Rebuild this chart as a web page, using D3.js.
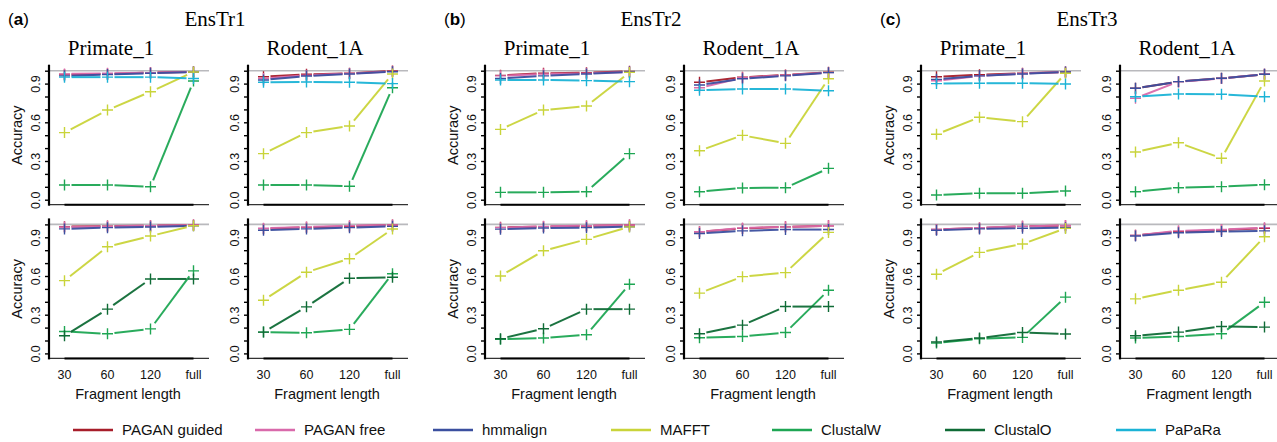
<!DOCTYPE html>
<html><head><meta charset="utf-8">
<script src="https://cdn.jsdelivr.net/npm/d3@7"></script>
<style>
html,body{margin:0;padding:0;background:#fff;}
svg{display:block;}
</style></head>
<body><svg id="chart" width="1277" height="442"></svg>
<script>
// ---------- DATA ----------
const fragLengths = ["30", "60", "120", "full"];
const datasets = ["EnsTr1", "EnsTr2", "EnsTr3"];
const panelTags = ["a", "b", "c"];
const species = ["Primate_1", "Rodent_1A"];
const yTickValues = [0, 0.1, 0.2, 0.3, 0.4, 0.5, 0.6, 0.7, 0.8, 0.9, 1.0];
const yTickLabels = ["0.0", "0.3", "0.6", "0.9"];
const seriesNames = ["PAGAN guided", "PAGAN free", "hmmalign", "MAFFT", "ClustalW", "ClustalO", "PaPaRa"];
const seriesColors = ["#a71d2a", "#d96aab", "#3b4f9f", "#c9d43a", "#1ea653", "#0f6b36", "#1bb3d6"];

// panel order: EnsTr1 top Primate, top Rodent, bottom Primate, bottom Rodent, then EnsTr2, EnsTr3
const paganGuided = [
  [0.970, 0.975, 0.985, 0.992], [0.953, 0.972, 0.980, 0.998],
  [0.982, 0.987, 0.990, 0.995], [0.967, 0.977, 0.986, 0.995],
  [0.964, 0.980, 0.985, 0.995], [0.910, 0.949, 0.967, 0.988],
  [0.977, 0.983, 0.988, 0.995], [0.943, 0.969, 0.981, 0.990],
  [0.953, 0.969, 0.980, 0.990], [0.864, 0.915, 0.941, 0.972],
  [0.961, 0.973, 0.985, 0.990], [0.915, 0.943, 0.956, 0.970]
];
const paganFree = [
  [0.975, 0.980, 0.985, 0.990], [0.940, 0.965, 0.978, 0.995],
  [0.980, 0.985, 0.990, 0.995], [0.970, 0.980, 0.990, 0.995],
  [0.960, 0.975, 0.980, 0.990], [0.868, 0.945, 0.965, 0.985],
  [0.975, 0.985, 0.990, 0.995], [0.943, 0.972, 0.981, 0.990],
  [0.922, 0.960, 0.978, 0.990], [0.786, 0.915, 0.940, 0.972],
  [0.960, 0.975, 0.985, 0.992], [0.915, 0.950, 0.960, 0.975]
];
const hmmalign = [
  [0.960, 0.970, 0.980, 0.990], [0.928, 0.959, 0.975, 0.992],
  [0.965, 0.975, 0.980, 0.990], [0.955, 0.965, 0.975, 0.985],
  [0.940, 0.960, 0.975, 0.990], [0.889, 0.938, 0.960, 0.985],
  [0.963, 0.972, 0.975, 0.982], [0.930, 0.950, 0.960, 0.960],
  [0.933, 0.960, 0.975, 0.990], [0.864, 0.915, 0.941, 0.972],
  [0.955, 0.965, 0.970, 0.975], [0.910, 0.935, 0.945, 0.950]
];
const mafft = [
  [0.520, 0.695, 0.837, 0.990], [0.357, 0.520, 0.571, 0.974],
  [0.564, 0.827, 0.910, 0.990], [0.412, 0.629, 0.734, 0.964],
  [0.545, 0.695, 0.726, 0.987], [0.380, 0.499, 0.437, 0.938],
  [0.600, 0.796, 0.884, 0.981], [0.467, 0.595, 0.626, 0.938],
  [0.507, 0.639, 0.605, 0.980], [0.370, 0.442, 0.321, 0.920],
  [0.613, 0.783, 0.848, 0.969], [0.423, 0.490, 0.552, 0.904]
];
const clustalW = [
  [0.114, 0.114, 0.100, 0.920], [0.114, 0.114, 0.104, 0.868],
  [0.170, 0.152, 0.190, 0.640], [0.165, 0.160, 0.186, 0.618],
  [0.057, 0.057, 0.062, 0.357], [0.062, 0.091, 0.093, 0.243],
  [0.110, 0.119, 0.145, 0.536], [0.121, 0.131, 0.162, 0.490],
  [0.036, 0.050, 0.050, 0.067], [0.062, 0.093, 0.101, 0.116],
  [0.080, 0.114, 0.124, 0.436], [0.119, 0.131, 0.152, 0.397]
];
const clustalO = [
  null, null,
  [0.137, 0.343, 0.577, 0.577], [0.165, 0.361, 0.583, 0.590],
  null, null,
  [0.114, 0.191, 0.343, 0.343], [0.152, 0.219, 0.363, 0.363],
  null, null,
  [0.088, 0.119, 0.162, 0.150], [0.137, 0.165, 0.209, 0.204]
];
const papara = [
  [0.950, 0.950, 0.950, 0.940], [0.910, 0.912, 0.910, 0.900],
  null, null,
  [0.928, 0.928, 0.923, 0.915], [0.848, 0.858, 0.858, 0.845],
  null, null,
  [0.900, 0.903, 0.903, 0.897], [0.798, 0.819, 0.817, 0.798],
  null, null
];
const allSeries = [paganGuided, paganFree, hmmalign, mafft, clustalW, clustalO, papara];

// ---------- LAYOUT ----------
const svg = d3.select("#chart");
const sans = "'Liberation Sans', Arial, Helvetica, sans-serif";
const serif = "'Liberation Serif', 'Times New Roman', serif";
const groupX = [49, 485, 921];
const panelStep = 199;
const panelW = 160;
const rowTop = [70.7, 224.4];
const panelH = 129;
const titleOffset = [62, 266];

const x = d3.scalePoint().domain(fragLengths).range([15.5, 144.5]);
const y = d3.scaleLinear().domain([0, 1]).range([panelH, 0]);

datasets.forEach((ds, d) => {
  const gx = groupX[d];
  svg.append("text").attr("x", gx - 41).attr("y", 25)
    .attr("font-family", sans).attr("font-size", 17)
    .html('(<tspan font-weight="bold">' + panelTags[d] + '</tspan>)');
  svg.append("text").attr("x", gx + 166).attr("y", 26)
    .attr("text-anchor", "middle").attr("font-family", serif).attr("font-size", 21)
    .text(ds);
  species.forEach((sp, s) => {
    svg.append("text").attr("x", gx + titleOffset[s]).attr("y", 55)
      .attr("text-anchor", "middle").attr("font-family", serif).attr("font-size", 21)
      .text(sp);
  });

  [0, 1].forEach(r => {
    species.forEach((sp, s) => {
      const idx = d * 4 + r * 2 + s;
      const g = svg.append("g").attr("transform", `translate(${gx + s * panelStep},${rowTop[r]})`);

      g.append("line").attr("x1", 0).attr("x2", panelW).attr("y1", y(1)).attr("y2", y(1))
        .attr("stroke", "#b9b9bd").attr("stroke-width", 1.6);

      g.append("line").attr("x1", 0).attr("x2", panelW).attr("y1", panelH + 5).attr("y2", panelH + 5)
        .attr("stroke", "#333").attr("stroke-width", 1.2);
      g.append("line").attr("x1", x(fragLengths[0])).attr("x2", x(fragLengths[3]))
        .attr("y1", panelH + 5).attr("y2", panelH + 5)
        .attr("stroke", "#000").attr("stroke-width", 2);

      const ya = d3.axisLeft(y).tickValues(yTickValues).tickSize(4).tickSizeOuter(0)
        .tickFormat(v => { const t = v.toFixed(1); return yTickLabels.includes(t) ? t : ""; });
      const yg = g.append("g").call(ya);
      yg.select(".domain").attr("d", `M0,${-6}V${panelH + 6}`).attr("stroke-width", 2.2);
      yg.selectAll(".tick line").attr("stroke-width", 1.4);
      yg.selectAll(".tick text")
        .attr("font-family", sans).attr("font-size", 12.5).attr("fill", "#111")
        .attr("x", null).attr("dy", null)
        .attr("text-anchor", "middle")
        .attr("transform", "translate(-9,0) rotate(-90)");

      if (s === 0) {
        g.append("text").attr("transform", `translate(-27,${panelH / 2}) rotate(-90)`)
          .attr("text-anchor", "middle").attr("font-family", sans).attr("font-size", 14.5)
          .attr("fill", "#111").text("Accuracy");
      }
      if (r === 1) {
        fragLengths.forEach(f => {
          g.append("text").attr("x", x(f)).attr("y", panelH + 26)
            .attr("text-anchor", "middle").attr("font-family", sans).attr("font-size", 12.5)
            .attr("fill", "#111").text(f);
        });
        g.append("text").attr("x", panelW / 2 - 1).attr("y", panelH + 46)
          .attr("text-anchor", "middle").attr("font-family", sans).attr("font-size", 14.5)
          .attr("fill", "#111").text("Fragment length");
      }

      allSeries.forEach((ser, k) => {
        const vals = ser[idx];
        if (!vals) return;
        const col = seriesColors[k];
        const pts = vals.map((v, i) => [x(fragLengths[i]), y(v)]);
        const gap = 7;
        for (let i = 0; i < pts.length - 1; i++) {
          const [x1, y1] = pts[i], [x2, y2] = pts[i + 1];
          const len = Math.hypot(x2 - x1, y2 - y1);
          if (len <= 2 * gap) continue;
          const ux = (x2 - x1) / len, uy = (y2 - y1) / len;
          g.append("line")
            .attr("x1", x1 + ux * gap).attr("y1", y1 + uy * gap)
            .attr("x2", x2 - ux * gap).attr("y2", y2 - uy * gap)
            .attr("stroke", col).attr("stroke-width", 2).attr("stroke-opacity", 0.95);
        }
        pts.forEach(([px, py]) => {
          g.append("path")
            .attr("d", `M${px - 5.5},${py}H${px + 5.5}M${px},${py - 5.5}V${py + 5.5}`)
            .attr("stroke", col).attr("stroke-width", 1.4).attr("fill", "none");
        });
      });
    });
  });
});

// ---------- LEGEND ----------
const legendX = [73, 255, 433, 611, 772, 945, 1116];
const legend = svg.append("g");
seriesNames.forEach((nm, k) => {
  const lx = legendX[k];
  legend.append("line").attr("x1", lx).attr("x2", lx + 40).attr("y1", 430).attr("y2", 430)
    .attr("stroke", seriesColors[k]).attr("stroke-width", 2.5);
  legend.append("text").attr("x", lx + 49).attr("y", 435)
    .attr("font-family", sans).attr("font-size", 15).attr("fill", "#111").text(nm);
});
</script>
</body></html>
